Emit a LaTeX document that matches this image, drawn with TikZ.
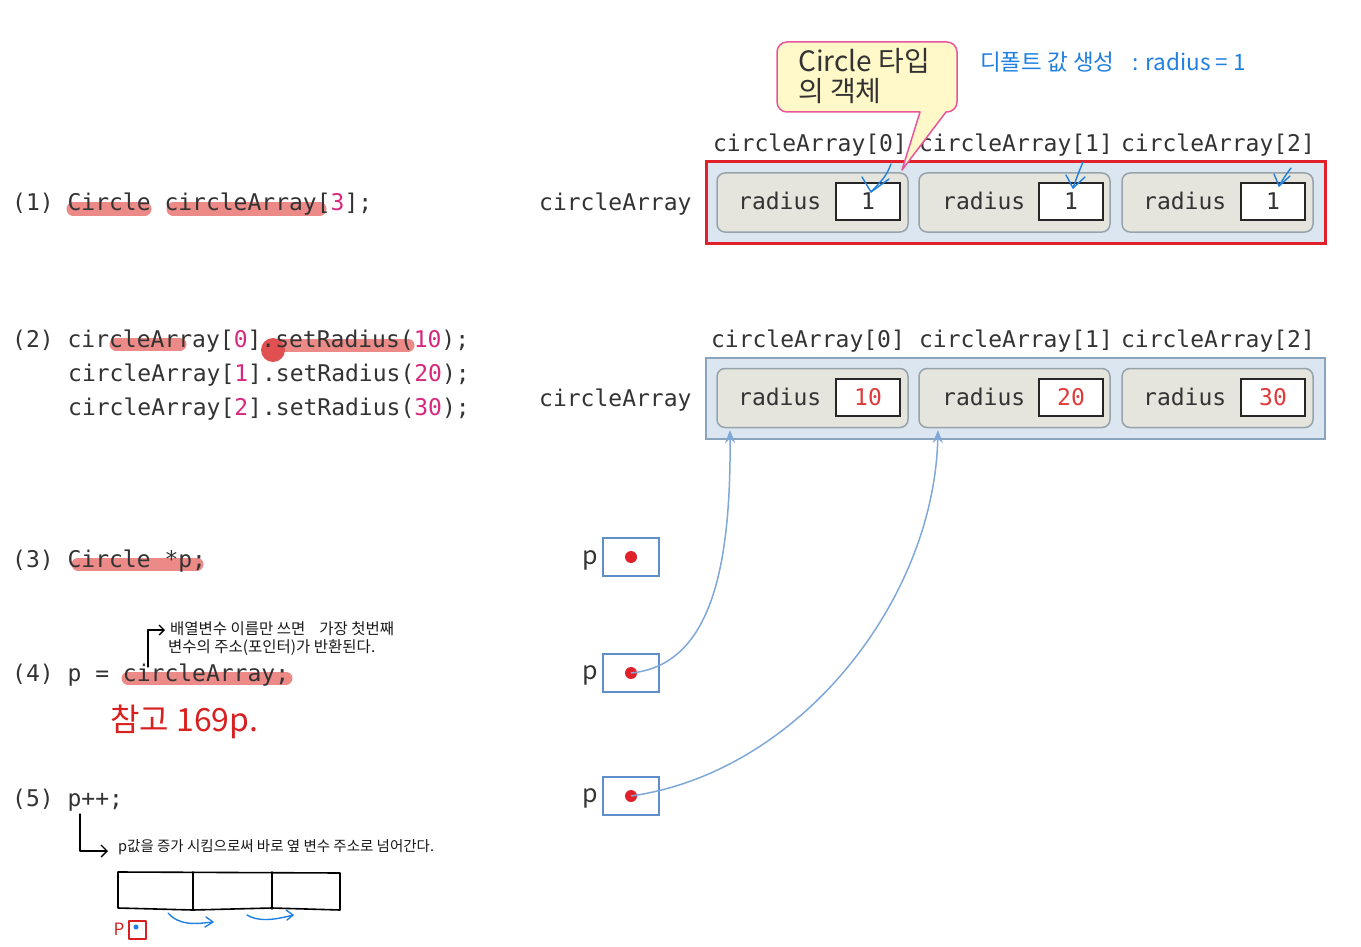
\documentclass[tikz,border=0pt]{standalone}
\usepackage{fontspec}
\newfontfamily\codefont{DejaVu Sans Mono}
\newfontfamily\kr{Noto Sans CJK KR}
\usetikzlibrary{arrows.meta}
\definecolor{codegray}{HTML}{333333}
\definecolor{numc}{HTML}{D6287E}
\definecolor{hl}{HTML}{EB8A86}
\definecolor{hldot}{HTML}{E05050}
\definecolor{outerfill}{HTML}{DCE6F0}
\definecolor{redborder}{HTML}{E0202A}
\definecolor{blueborder}{HTML}{8AA4BE}
\definecolor{innerfill}{HTML}{E5E5DD}
\definecolor{innerborder}{HTML}{96A3AB}
\definecolor{pblue}{HTML}{5E8FCB}
\definecolor{curveblue}{HTML}{7FA8D8}
\definecolor{dotred}{HTML}{E0202A}
\definecolor{valred}{HTML}{E03A3A}
\definecolor{callfill}{HTML}{FFF8C8}
\definecolor{callpink}{HTML}{E8559A}
\definecolor{penblue}{HTML}{2080E0}
\definecolor{penred}{HTML}{D82020}
\begin{document}
\begin{tikzpicture}[x=1pt,y=-1pt,
  code/.style={anchor=base west,inner sep=0pt,text=codegray,font=\codefont\fontsize{23}{23}\selectfont},
  clabel/.style={anchor=base,inner sep=0pt,text=codegray,font=\codefont\fontsize{23}{23}\selectfont},
  hilite/.style={draw=hl,line width=13pt,line cap=round},
  outerbox/.style={fill=outerfill,minimum width=619pt,minimum height=81pt,inner sep=0pt},
  innerbox/.style={draw=innerborder,fill=innerfill,line width=1.5pt,rounded corners=8pt,minimum width=191pt,minimum height=59pt,inner sep=0pt},
  valbox/.style={draw=black!85,fill=white,line width=1.8pt,minimum width=64pt,minimum height=37pt,inner sep=0pt,font=\codefont\fontsize{23}{23}\selectfont,text=codegray},
  pbox/.style={draw=pblue,line width=2pt,minimum width=56pt,minimum height=38pt,inner sep=0pt},
  pdot/.style={circle,fill=dotred,minimum size=12pt,inner sep=0pt},
  plabel/.style={inner sep=0pt,text=codegray,font=\kr\fontsize{25}{25}\selectfont},
  ptr/.style={draw=curveblue,line width=1.5pt,-{Stealth[length=13pt,width=10pt]}},
  pen/.style={line width=1.3pt,line cap=round,line join=round},
  bluepen/.style={pen,draw=penblue,line width=1.4pt},
  hand/.style={inner sep=0pt,anchor=west,font=\kr\fontsize{15.5}{15.5}\selectfont,text=black!90}
]
\useasboundingbox (0,0) rectangle (1361,947);

% highlights (under the code text)
\draw[hilite] (73,209) -- (145,209);
\draw[hilite] (173,209) -- (320,209);
\draw[hilite] (116,344) -- (180,344);
\draw[hilite] (275,345) -- (408,345);
\fill[hldot] (273,350) circle (12pt);
\draw[hilite] (78,564) -- (197,564);
\draw[hilite] (128,678) -- (286,678);

% ---------- code lines ----------
\node[code] (c1) at (12,211) {(1) Circle circleArray[\textcolor{numc}{3}];};
\node[code] (c2a) at (12,347) {(2) circleArray[\textcolor{numc}{0}].setRadius(\textcolor{numc}{10});};
\node[code] (c2b) at (68,381) {circleArray[\textcolor{numc}{1}].setRadius(\textcolor{numc}{20});};
\node[code] (c2c) at (68,415) {circleArray[\textcolor{numc}{2}].setRadius(\textcolor{numc}{30});};
\node[code] (c3) at (12,567) {(3) Circle *p;};
\node[code] (c4) at (12,681) {(4) p = circleArray;};
\node[code] (c5) at (12,806) {(5) p++;};

% ---------- group 1 ----------
\node[code] (lab1) at (539,211) {circleArray};
\node[outerbox,draw=redborder,line width=3pt] (o1) at (1015.5,202.5) {};
\node[innerbox] (a0) at (812.5,202.5) {};
\node[innerbox] (a1) at (1014.5,202.5) {};
\node[innerbox] (a2) at (1217.5,202.5) {};
\node[code] at (738,209) {radius};
\node[code] at (942,209) {radius};
\node[code] at (1143,209) {radius};
\node[valbox] (v0) at (868,201.5) {1};
\node[valbox] (v1) at (1071,201.5) {1};
\node[valbox] (v2) at (1273,201.5) {1};
\node[clabel] at (810,152) {circleArray[0]};
\node[clabel] at (1016,152) {circleArray[1]};
\node[clabel] at (1218,152) {circleArray[2]};

% callout
\draw[fill=callfill,draw=callpink,line width=1.5pt,line join=round]
  (787,42) -- (947,42) arc[start angle=90,end angle=0,radius=10pt]
  -- (957,102) arc[start angle=0,end angle=-90,radius=10pt]
  -- (946,112) -- (902,170) -- (920,112)
  -- (787,112) arc[start angle=270,end angle=180,radius=10pt]
  -- (777,52) arc[start angle=180,end angle=90,radius=10pt] -- cycle;
\node[inner sep=0pt,anchor=base west,font=\kr\fontsize{28}{28}\selectfont,text=codegray] (call1) at (798,72) {Circle 타입};
\node[inner sep=0pt,anchor=base west,font=\kr\fontsize{28}{28}\selectfont,text=codegray] (call2) at (798,102) {의 객체};

% blue annotation
\node[inner sep=0pt,anchor=west,font=\kr\fontsize{22.5}{22.5}\selectfont,text=penblue] (note1) at (980,62) {디폴트 값 생성\hspace{18pt}: radius = 1};
\coordinate (b0s) at (891,164); \coordinate (b0e) at (871,192);
\coordinate (b1s) at (1083,162); \coordinate (b1e) at (1073,188);
\coordinate (b2s) at (1291,168); \coordinate (b2e) at (1279,186);
\draw[bluepen] (b0s) .. controls (886,176) .. (b0e);
\draw[bluepen] (862,177) -- (b0e) -- (889,179);
\draw[bluepen] (b1s) .. controls (1078,174) .. (b1e);
\draw[bluepen] (1066,175) -- (b1e) -- (1085,177);
\draw[bluepen] (b2s) .. controls (1285,176) .. (b2e);
\draw[bluepen] (1274,174) -- (b2e) -- (1290,176);

% ---------- group 2 ----------
\node[code] (lab2) at (539,406) {circleArray};
\node[outerbox,draw=blueborder,line width=2pt] (o2) at (1015.5,398) {};
\node[innerbox] (e0) at (812.5,398) {};
\node[innerbox] (e1) at (1014.5,398) {};
\node[innerbox] (e2) at (1217.5,398) {};
\node[code] at (738,405) {radius};
\node[code] at (942,405) {radius};
\node[code] at (1143,405) {radius};
\node[valbox,text=valred] (w0) at (868,397.5) {10};
\node[valbox,text=valred] (w1) at (1071,397.5) {20};
\node[valbox,text=valred] (w2) at (1273,397.5) {30};
\node[clabel] at (808,347) {circleArray[0]};
\node[clabel] at (1016,347) {circleArray[1]};
\node[clabel] at (1218,347) {circleArray[2]};

% ---------- pointers ----------
\node[plabel] (pl1) at (590,560) {p};
\node[plabel] (pl2) at (590,675) {p};
\node[plabel] (pl3) at (590,798) {p};
\node[pbox] (p1) at (631,557) {};
\node[pbox] (p2) at (631,672.5) {};
\node[pbox] (p3) at (631,795.5) {};
\node[pdot] (d1) at (631,557) {};
\node[pdot] (d2) at (631,673) {};
\node[pdot] (d3) at (631,796) {};
\coordinate (t1) at (730,430);
\coordinate (t2) at (938,430);
\draw[ptr] (d2.center) .. controls (712,665) and (731,565) .. (t1);
\draw[ptr] (d3.center) .. controls (800,772) and (934,600) .. (t2);

% ---------- handwritten notes ----------
\coordinate (h4a) at (148,667); \coordinate (h4b) at (148,630); \coordinate (h4c) at (165,630);
\draw[pen,-{Straight Barb[length=5pt,width=10pt]}] (h4a) -- (h4b) -- (h4c);
\node[hand] (n4a) at (170,629) {배열변수 이름만 쓰면\hspace{14pt}가장 첫번째};
\node[hand] (n4b) at (168,648) {변수의 주소(포인터)가 반환된다.};
\node[inner sep=0pt,anchor=west,font=\kr\fontsize{32}{32}\selectfont,text=penred] (ref) at (110,722) {참고 169p.};

\coordinate (h5a) at (80,814); \coordinate (h5b) at (80,851); \coordinate (h5c) at (108,851);
\draw[pen,-{Straight Barb[length=6pt,width=12pt]}] (h5a) -- (h5b) -- (h5c);
\node[hand,font=\kr\fontsize{14.5}{14.5}\selectfont] (n5) at (118,847) {p값을 증가 시킴으로써 바로 옆 변수 주소로 넘어간다.};

\draw[pen,line width=1.6pt] (118,872) -- (340,873) -- (340,910) -- (272,908) -- (193,910) -- (118,908) -- cycle;
\draw[pen,line width=1.6pt] (193,872) -- (193,910);
\draw[pen,line width=1.6pt] (272,872) -- (272,909);
\node[inner sep=0pt,font=\kr\fontsize{17}{17}\selectfont,text=penred] (pp) at (119,929) {P};
\draw[pen,penred,line width=1.5pt] (129,921) rectangle (146,939);
\fill[penblue] (136,927) circle (2.5pt);
\coordinate (m1) at (168,913); \coordinate (m2) at (213,922);
\coordinate (m3) at (247,915); \coordinate (m4) at (293,915);
\draw[bluepen] (m1) .. controls (180,926) and (195,924) .. (m2);
\draw[bluepen] (206,917) -- (m2) -- (205,927);
\draw[bluepen] (m3) .. controls (258,922) and (275,920) .. (m4);
\draw[bluepen] (286,910) -- (m4) -- (287,920);
\end{tikzpicture}
\end{document}
